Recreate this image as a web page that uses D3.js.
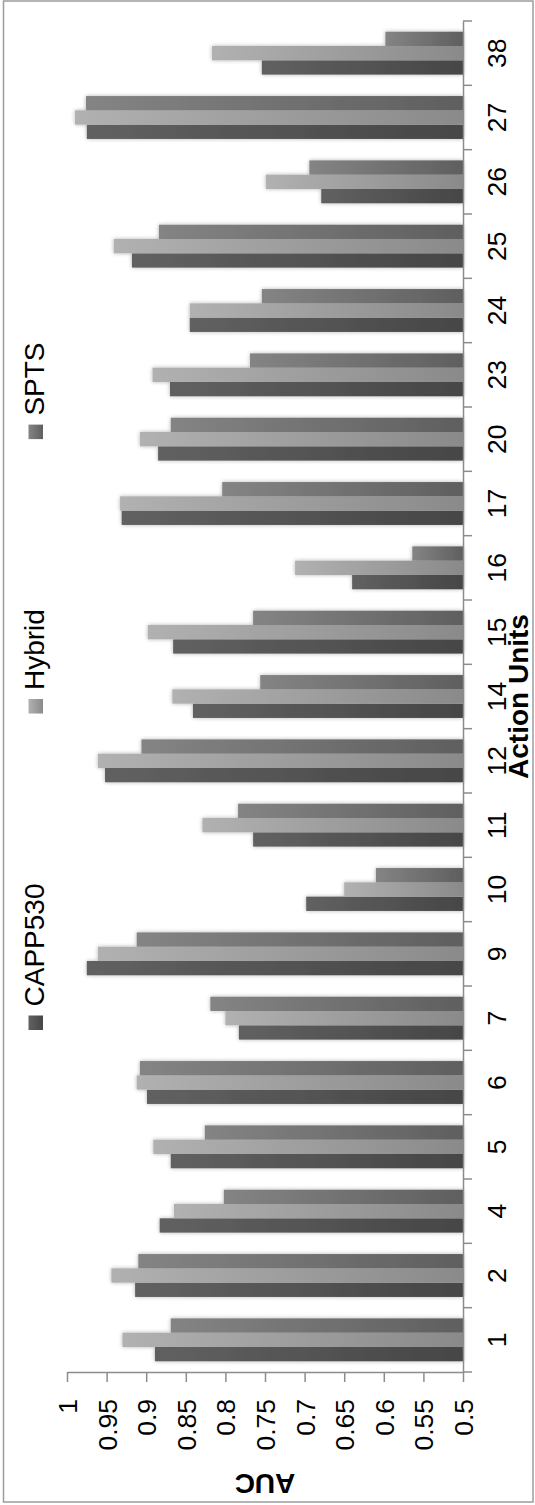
<!DOCTYPE html>
<html>
<head>
<meta charset="utf-8">
<script src="https://cdn.jsdelivr.net/npm/d3@7"></script>
<style>
  html, body { margin: 0; padding: 0; background: #fff; }
  svg { display: block; }
  svg text { font-family: "Liberation Sans", Arial, sans-serif; fill: #000; }
</style>
</head>
<body>
<script>
// ---------- data ----------
const categories = ["1","2","4","5","6","7","9","10","11","12","14","15","16","17","20","23","24","25","26","27","38"];
const seriesNames = ["CAPP530", "Hybrid", "SPTS"];
const capp530 = [0.889, 0.914, 0.883, 0.869, 0.899, 0.783, 0.975, 0.698, 0.765, 0.952, 0.841, 0.866, 0.640, 0.931, 0.885, 0.870, 0.845, 0.918, 0.679, 0.975, 0.754];
const hybrid  = [0.930, 0.944, 0.865, 0.891, 0.912, 0.800, 0.961, 0.650, 0.829, 0.961, 0.867, 0.898, 0.712, 0.933, 0.908, 0.892, 0.845, 0.941, 0.749, 0.990, 0.817];
const spts    = [0.869, 0.910, 0.802, 0.826, 0.908, 0.819, 0.912, 0.610, 0.784, 0.906, 0.756, 0.765, 0.564, 0.804, 0.869, 0.769, 0.754, 0.884, 0.694, 0.976, 0.598];
const valueTicks = [0.5, 0.55, 0.6, 0.65, 0.7, 0.75, 0.8, 0.85, 0.9, 0.95, 1];
const valueTickLabels = ["0.5", "0.55", "0.6", "0.65", "0.7", "0.75", "0.8", "0.85", "0.9", "0.95", "1"];
const xAxisTitle = "Action Units";
const yAxisTitle = "AUC";

const seriesValues = { "CAPP530": capp530, "Hybrid": hybrid, "SPTS": spts };
const gradStops = {
  "CAPP530": ["#616161", "#464646"],
  "Hybrid":  ["#b1b1b1", "#8a8a8a"],
  "SPTS":    ["#848484", "#5f5f5f"]
};

const W = 535, H = 1505;
const FONT = "'Liberation Sans', Arial, sans-serif";

const svg = d3.select("body").append("svg").attr("width", W).attr("height", H);
const defs = svg.append("defs");

seriesNames.forEach((s, i) => {
  const g = defs.append("linearGradient").attr("id", "grad" + i)
    .attr("x1", 0).attr("y1", 0).attr("x2", 1).attr("y2", 0);
  g.append("stop").attr("offset", "0%").attr("stop-color", gradStops[s][0]);
  g.append("stop").attr("offset", "100%").attr("stop-color", gradStops[s][1]);
});
const f = defs.append("filter").attr("id", "shadow")
  .attr("x", "-5%").attr("y", "-5%").attr("width", "110%").attr("height", "110%");
f.append("feGaussianBlur").attr("in", "SourceAlpha").attr("stdDeviation", 2.2).attr("result", "b");
f.append("feComponentTransfer").attr("in", "b").attr("result", "b2")
  .append("feFuncA").attr("type", "linear").attr("slope", 0.3);
const fm = f.append("feMerge");
fm.append("feMergeNode").attr("in", "b2");
fm.append("feMergeNode").attr("in", "SourceGraphic");

// frame
svg.append("rect").attr("x", 3.5).attr("y", 1).attr("width", 529.5).attr("height", 1501)
  .attr("fill", "none").attr("stroke", "#9c9c9c").attr("stroke-width", 1.5);

// ---------- scales (chart rotated: values run right->left, categories bottom->top) ----------
const x = d3.scaleLinear().domain([0.5, 1]).range([463, 67]);
const y0 = d3.scaleBand().domain(categories).range([1372, 21]).paddingInner(1/3).paddingOuter(1/6);
const y1 = d3.scaleBand().domain(seriesNames).range([y0.bandwidth(), 0]);

// ---------- bars ----------
const barsG = svg.append("g").attr("filter", "url(#shadow)");
const groups = barsG.selectAll("g.grp").data(categories).join("g")
  .attr("class", "grp")
  .attr("transform", c => `translate(0,${y0(c)})`);
groups.selectAll("rect")
  .data((c, ci) => seriesNames.map((s, si) => ({ s, si, v: seriesValues[s][ci] })))
  .join("rect")
  .attr("x", d => x(d.v))
  .attr("y", d => y1(d.s))
  .attr("width", d => x(0.5) - x(d.v))
  .attr("height", y1.bandwidth())
  .attr("fill", d => `url(#grad${d.si})`);

// ---------- value axis (bottom) ----------
const xAxis = svg.append("g").attr("transform", "translate(0,1372)")
  .call(d3.axisBottom(x).tickValues(valueTicks).tickSize(10).tickSizeOuter(0)
    .tickFormat((d, i) => valueTickLabels[i]));
xAxis.attr("font-family", null);
xAxis.select(".domain").attr("stroke", "#8c8c8c").attr("stroke-width", 1.5);
xAxis.selectAll(".tick line").attr("stroke", "#8c8c8c").attr("stroke-width", 1.5);
xAxis.selectAll(".tick text")
  .attr("transform", "rotate(-90)")
  .attr("x", -27).attr("y", 0).attr("dy", "0.36em")
  .attr("text-anchor", "end")
  .attr("font-size", 26.5).style("font-family", FONT).attr("fill", "#000");

// ---------- category axis (right) ----------
const yAxis = svg.append("g").attr("transform", "translate(463,0)")
  .call(d3.axisRight(y0).tickSize(0).tickSizeOuter(0));
yAxis.attr("font-family", null);
yAxis.select(".domain").attr("stroke", "#8c8c8c").attr("stroke-width", 1.5);
yAxis.selectAll(".tick text")
  .attr("transform", "translate(43,0) rotate(-90)")
  .attr("x", 0).attr("y", 0).attr("dy", 0)
  .attr("text-anchor", "middle")
  .attr("font-size", 26.5).style("font-family", FONT).attr("fill", "#000");
const bounds = [y0.range()[0]].concat(categories.map(c => y0(c) + y0.bandwidth() / 2 - y0.step() / 2));
yAxis.selectAll("line.bt").data(bounds).join("line").attr("class", "bt")
  .attr("x1", 0).attr("x2", 9).attr("y1", d => d).attr("y2", d => d)
  .attr("stroke", "#8c8c8c").attr("stroke-width", 1.5);

// ---------- axis titles ----------
svg.append("text")
  .attr("transform", `translate(528,${(y0.range()[0] + y0.range()[1]) / 2}) rotate(-90)`)
  .attr("text-anchor", "middle").attr("font-size", 28).attr("font-weight", "bold")
  .style("font-family", FONT).text(xAxisTitle);
svg.append("text")
  .attr("transform", `translate(${(x(0.5) + x(1)) / 2},1474) rotate(180)`)
  .attr("text-anchor", "middle").attr("font-size", 28).attr("font-weight", "bold")
  .style("font-family", FONT).text(yAxisTitle);

// ---------- legend ----------
const legend = svg.append("g");
let cur = 1030;
const sq = 14.5;
seriesNames.forEach((s, i) => {
  legend.append("rect").attr("x", 28.5).attr("y", cur - sq).attr("width", sq).attr("height", sq)
    .attr("fill", `url(#grad${i})`);
  const t = legend.append("text")
    .attr("transform", `translate(44,${cur - sq - 9}) rotate(-90)`)
    .attr("text-anchor", "start").attr("font-size", 28).style("font-family", FONT).text(s);
  const len = t.node().getComputedTextLength();
  cur = cur - sq - 9 - len - 170;
});
</script>
</body>
</html>
